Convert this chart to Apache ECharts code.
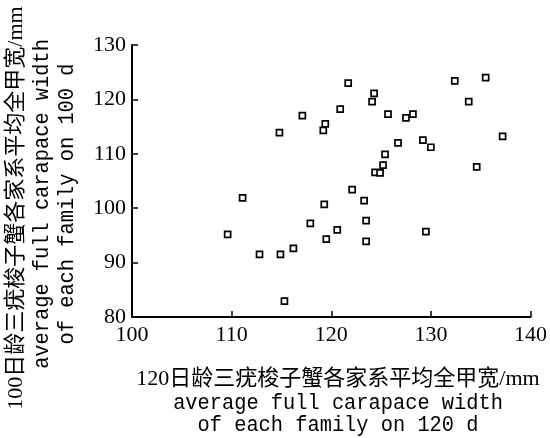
<!DOCTYPE html>
<html><head><meta charset="utf-8">
<script src="https://cdn.jsdelivr.net/npm/echarts@6/dist/echarts.min.js"></script>
<style>html,body{margin:0;padding:0;background:#fff}#c{width:550px;height:438px}</style>
</head><body><div id="c"></div>
<script>
var xValues = [109.6,111.1,112.8,114.8,114.9,115.3,116.2,117.1,117.9,119.3,119.4,119.2,119.5,120.6,120.9,121.7,122.1,123.3,123.5,123.5,124.1,124.3,124.4,124.9,125.2,125.4,125.7,126.7,127.5,128.2,129.2,129.5,130.0,132.4,133.8,134.6,135.5,137.2];
var yValues = [95.2,101.9,91.5,113.9,91.5,82.9,92.6,117.0,97.2,100.7,115.5,114.3,94.3,96.0,118.2,123.0,103.4,101.4,97.7,93.9,119.6,121.1,106.6,106.5,107.9,109.9,117.3,112.0,116.6,117.3,112.5,95.7,111.2,123.4,119.6,107.6,124.0,113.2];
var xTicks = [100,110,120,130,140];
var yTicks = [80,90,100,110,120,130];
var xTitle = ['120日龄三疣梭子蟹各家系平均全甲宽/mm','average full carapace width','of each family on 120 d'];
var yTitle = ['100日龄三疣梭子蟹各家系平均全甲宽/mm','average full carapace width','of each family on 100 d'];

var points = xValues.map(function(x,i){return [x,yValues[i]];});
var serif = 'Liberation Serif, Noto Sans CJK SC';
var mono = 'Liberation Mono, DejaVu Sans Mono';
var chart = echarts.init(document.getElementById('c'));
function t(text,x,y,font,rot,sx){
  return {type:'text',x:x,y:y,rotation:rot||0,scaleX:sx||1,
    style:{text:text,font:font,fill:'#000',textAlign:'center',textVerticalAlign:'middle'}};
}
chart.setOption({
  animation:false,
  backgroundColor:'#fff',
  grid:{left:132,right:15,top:45,bottom:121},
  xAxis:{type:'value',min:xTicks[0],max:xTicks[xTicks.length-1],interval:10,
    axisLine:{lineStyle:{color:'#000',width:2}},
    axisTick:{inside:true,length:6,lineStyle:{color:'#000',width:1.5}},
    axisLabel:{color:'#000',fontFamily:serif,fontSize:22,margin:7},
    splitLine:{show:false}},
  yAxis:{type:'value',min:yTicks[0],max:yTicks[yTicks.length-1],interval:10,
    axisLine:{show:true,lineStyle:{color:'#000',width:2}},
    axisTick:{show:true,inside:true,length:6,lineStyle:{color:'#000',width:1.5}},
    axisLabel:{color:'#000',fontFamily:serif,fontSize:22,margin:6},
    splitLine:{show:false}},
  series:[{type:'scatter',data:points,symbol:'rect',symbolSize:6,
    itemStyle:{color:'#fff',borderColor:'#000',borderWidth:1.7,opacity:1}}],
  graphic:[
    t(xTitle[0],338,379,'22px '+serif),
    t(xTitle[1],338,403,'22px '+mono,0,0.925),
    t(xTitle[2],338,425,'22px '+mono,0,0.925),
    t(yTitle[0],16,208,'22px '+serif,Math.PI/2),
    t(yTitle[1],42,204,'22px '+mono,Math.PI/2,0.925),
    t(yTitle[2],67,204,'22px '+mono,Math.PI/2,0.925)
  ]
});
</script></body></html>
